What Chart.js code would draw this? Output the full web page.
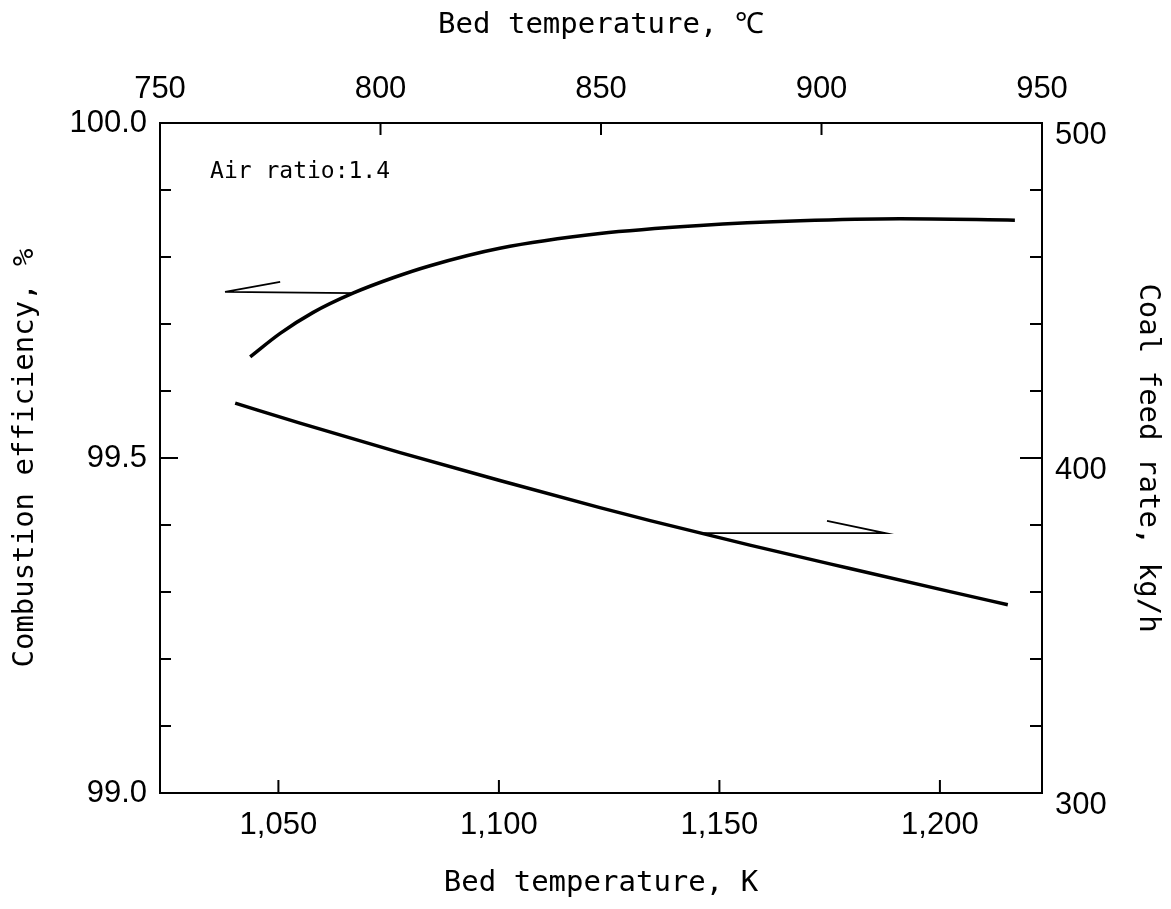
<!DOCTYPE html>
<html>
<head>
<meta charset="utf-8">
<script src="https://cdn.jsdelivr.net/npm/chart.js@4.4.1/dist/chart.umd.min.js"></script>
<style>
html, body { margin: 0; padding: 0; background: #fff; }
</style>
</head>
<body>
<canvas id="combustionChart" width="1171" height="909"></canvas>
<script>
// curves (x in K)
const tempEffK = [1043.6, 1050.4, 1057.8, 1066.9, 1076.0, 1084.4, 1100.2, 1122.9, 1145.6, 1168.3, 1190.9, 1217.0];
const efficiency = [99.651, 99.686, 99.717, 99.746, 99.769, 99.787, 99.813, 99.835, 99.847, 99.854, 99.857, 99.855];
const tempFeedK = [1040.2, 1054.9, 1077.6, 1100.2, 1122.9, 1134.3, 1156.9, 1179.6, 1202.3, 1215.4];
const feedRate = [416.4, 410.4, 401.6, 393.3, 385.2, 381.3, 374.0, 367.0, 360.1, 356.2];

// the two pointer arrows (barb, tip, base)
const arrowEffK = [1050.4, 1037.9, 1066.9];
const arrowEffY = [99.763, 99.748, 99.746];
const arrowFeedK = [1174.4, 1187.6, 1146.3];
const arrowFeedY = [381.2, 377.6, 377.6];

// axis ticks
const kTicks = [1050, 1100, 1150, 1200];
const cTicks = [750, 800, 850, 900, 950];
const effTicks = [99.0, 99.1, 99.2, 99.3, 99.4, 99.5, 99.6, 99.7, 99.8, 99.9, 100.0];
const effLabels = [99.0, 99.5, 100.0];
const feedTicks = [300, 320, 340, 360, 380, 400, 420, 440, 460, 480, 500];
const feedLabels = [300, 400, 500];

const tickFont = { family: '"Liberation Sans Narrow", "Liberation Sans", sans-serif', size: 31 };
const titleFont = { family: '"DejaVu Sans Mono", monospace', size: 29 };

function toPoints(xs, ys) {
    return xs.map((x, i) => ({ x: x, y: ys[i] }));
}

function hasValue(list, v) {
    return list.some(l => Math.abs(l - v) < 1e-6);
}

// inward tick marks + the note in the corner
const tickMarks = {
    id: 'tickMarks',
    afterDatasetsDraw(chart) {
        const ctx = chart.ctx;
        const a = chart.chartArea;
        const s = chart.scales;
        ctx.save();
        ctx.strokeStyle = '#000';
        ctx.lineWidth = 2;
        ctx.beginPath();
        s.y.ticks.forEach(t => {
            const py = s.y.getPixelForValue(t.value);
            const len = hasValue(effLabels, t.value) ? 18 : 11;
            ctx.moveTo(a.left, py);
            ctx.lineTo(a.left + len, py);
        });
        s.y2.ticks.forEach(t => {
            const py = s.y2.getPixelForValue(t.value);
            const len = hasValue(feedLabels, t.value) ? 22 : 12;
            ctx.moveTo(a.right, py);
            ctx.lineTo(a.right - len, py);
        });
        s.x.ticks.forEach(t => {
            const px = s.x.getPixelForValue(t.value);
            ctx.moveTo(px, a.bottom);
            ctx.lineTo(px, a.bottom - 13);
        });
        s.xTop.ticks.forEach(t => {
            const px = s.xTop.getPixelForValue(t.value);
            ctx.moveTo(px, a.top);
            ctx.lineTo(px, a.top + 12);
        });
        ctx.stroke();

        ctx.fillStyle = '#000';
        ctx.font = '23px "DejaVu Sans Mono", monospace';
        ctx.textAlign = 'left';
        ctx.textBaseline = 'middle';
        ctx.fillText('Air ratio:1.4', s.x.getPixelForValue(1034.5), s.y.getPixelForValue(99.927));
        ctx.restore();
    }
};

const ctx = document.getElementById('combustionChart').getContext('2d');

new Chart(ctx, {
    type: 'line',
    data: {
        datasets: [
            {
                label: 'Combustion efficiency',
                data: toPoints(tempEffK, efficiency),
                xAxisID: 'x',
                yAxisID: 'y',
                borderColor: '#000',
                borderWidth: 3.5,
                pointRadius: 0,
                cubicInterpolationMode: 'monotone'
            },
            {
                label: 'Coal feed rate',
                data: toPoints(tempFeedK, feedRate),
                xAxisID: 'x',
                yAxisID: 'y2',
                borderColor: '#000',
                borderWidth: 3.5,
                pointRadius: 0,
                cubicInterpolationMode: 'monotone'
            },
            {
                label: 'arrow left',
                data: toPoints(arrowEffK, arrowEffY),
                xAxisID: 'x',
                yAxisID: 'y',
                borderColor: '#000',
                borderWidth: 1.8,
                pointRadius: 0,
                tension: 0
            },
            {
                label: 'arrow right',
                data: toPoints(arrowFeedK, arrowFeedY),
                xAxisID: 'x',
                yAxisID: 'y2',
                borderColor: '#000',
                borderWidth: 1.8,
                pointRadius: 0,
                tension: 0
            }
        ]
    },
    options: {
        responsive: false,
        animation: false,
        layout: { padding: 0 },
        plugins: {
            legend: { display: false },
            tooltip: { enabled: false }
        },
        scales: {
            x: {
                type: 'linear',
                position: 'bottom',
                min: 1023.15,
                max: 1223.15,
                afterBuildTicks: s => { s.ticks = kTicks.map(v => ({ value: v })); },
                afterFit: s => { s.height = 116; },
                grid: { display: false, drawTicks: false },
                border: { display: true, color: '#000', width: 2 },
                ticks: {
                    color: '#000',
                    font: tickFont,
                    padding: 14,
                    maxRotation: 0,
                    autoSkip: false,
                    callback: v => v.toLocaleString('en-US')
                },
                title: {
                    display: true,
                    text: 'Bed temperature, K',
                    color: '#000',
                    font: titleFont,
                    padding: { top: 0, bottom: 8 }
                }
            },
            xTop: {
                type: 'linear',
                position: 'top',
                min: 750,
                max: 950,
                afterBuildTicks: s => { s.ticks = cTicks.map(v => ({ value: v })); },
                afterFit: s => { s.height = 123; },
                grid: { display: false, drawTicks: false },
                border: { display: true, color: '#000', width: 2 },
                ticks: {
                    color: '#000',
                    font: tickFont,
                    padding: 15,
                    maxRotation: 0,
                    autoSkip: false,
                    callback: v => String(v)
                },
                title: {
                    display: true,
                    text: 'Bed temperature, ℃',
                    color: '#000',
                    font: titleFont,
                    padding: { top: 8, bottom: 0 }
                }
            },
            y: {
                type: 'linear',
                position: 'left',
                min: 99,
                max: 100,
                afterBuildTicks: s => { s.ticks = effTicks.map(v => ({ value: v })); },
                afterFit: s => { s.width = 160; },
                grid: { display: false, drawTicks: false },
                border: { display: true, color: '#000', width: 2 },
                ticks: {
                    color: '#000',
                    font: tickFont,
                    padding: 13,
                    autoSkip: false,
                    callback: v => hasValue(effLabels, v) ? v.toFixed(1) : ''
                },
                title: {
                    display: true,
                    text: 'Combustion efficiency, %',
                    color: '#000',
                    font: titleFont,
                    padding: { top: 8, bottom: 0 }
                }
            },
            y2: {
                type: 'linear',
                position: 'right',
                min: 300,
                max: 500,
                afterBuildTicks: s => { s.ticks = feedTicks.map(v => ({ value: v })); },
                afterFit: s => { s.width = 129; },
                grid: { display: false, drawTicks: false },
                border: { display: true, color: '#000', width: 2 },
                ticks: {
                    color: '#000',
                    font: tickFont,
                    padding: 13,
                    labelOffset: 12,
                    autoSkip: false,
                    callback: v => hasValue(feedLabels, v) ? String(v) : ''
                },
                title: {
                    display: true,
                    text: 'Coal feed rate, kg/h',
                    color: '#000',
                    font: titleFont,
                    padding: { top: 6, bottom: 0 }
                }
            }
        }
    },
    plugins: [tickMarks]
});
</script>
</body>
</html>
